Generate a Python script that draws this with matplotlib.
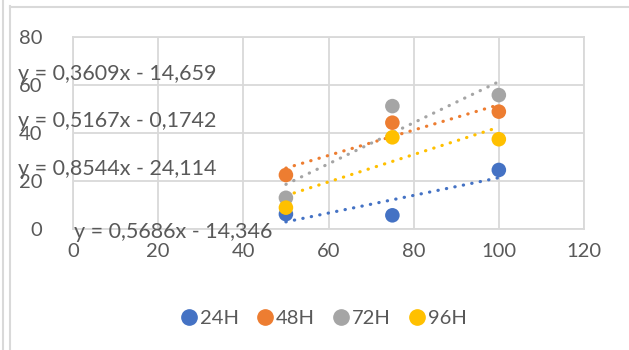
import matplotlib
matplotlib.use("Agg")
import matplotlib.pyplot as plt
import numpy as np
from matplotlib.lines import Line2D

x_vals = [50, 75, 100]
series_names = ["24H", "48H", "72H", "96H"]
s24 = [6.2, 5.7, 24.6]
s48 = [22.5, 44.3, 48.9]
s72 = [13.0, 51.2, 55.8]
s96 = [8.9, 38.2, 37.4]
colors = ["#4472C4", "#ED7D31", "#A5A5A5", "#FFC000"]
equations = ["y = 0,3609x - 14,659", "y = 0,5167x - 0,1742",
             "y = 0,8544x - 24,114", "y = 0,5686x - 14,346"]
xticks = [0, 20, 40, 60, 80, 100, 120]
yticks = [0, 20, 40, 60, 80]

plt.rcParams['font.family'] = ['Lato', 'DejaVu Sans']
W, H = 629, 350
fig = plt.figure(figsize=(W/100, H/100), dpi=100)
ax = fig.add_axes([73/W, 1-229/H, (584-73)/W, (229-37)/H])

tc = "#595959"
series = [s24, s48, s72, s96]
xs = np.array(x_vals, dtype=float)
for ys, c in zip(series, colors):
    ax.scatter(xs, ys, s=110, color=c, zorder=4, edgecolors='none', clip_on=False)
for ys, c in zip(series, colors):
    m, b = np.polyfit(xs, ys, 1)
    xl = np.array([50, 100])
    ax.plot(xl, m*xl+b, color=c, lw=2.3, ls=(0, (0.1, 2.6)), dash_capstyle='round',
            solid_capstyle='round', zorder=3)

ax.set_xlim(0, 120)
ax.set_ylim(0, 80)
ax.set_xticks(xticks)
ax.set_yticks(yticks)
ax.grid(True, color="#D9D9D9", lw=1.3)
ax.set_axisbelow(True)
for s in ax.spines.values():
    s.set_color("#D9D9D9")
    s.set_linewidth(1.3)
ax.tick_params(length=0, labelsize=14.5, labelcolor=tc, pad=10)
ax.tick_params(axis='y', pad=22)

# equation labels (positions in data units)
eq_pos = [(-13.0, 64.5), (-13.0, 44.8), (-13.0, 24.8), (0.2, -1.2)]
for (ex, ey), t in zip(eq_pos, equations):
    ax.text(ex, ey, t, fontsize=15.5, color=tc, va='center', ha='left', clip_on=False, zorder=5)

handles = [Line2D([], [], marker='o', ls='none', color=c, markersize=11) for c in colors]
fig.legend(handles, series_names, loc='center', bbox_to_anchor=(323/W, 1-318/H), ncol=4,
           frameon=False, fontsize=14.5, labelcolor=tc, handletextpad=0.05, columnspacing=0.8,
           handlelength=1.0)

# chart frame lines
fig.add_artist(Line2D([3.5/W, 3.5/W], [0, 1], color="#D9D9D9", lw=1.5))
fig.add_artist(Line2D([9.5/W, 9.5/W], [0, 1-6/H], color="#D9D9D9", lw=1.5))
fig.add_artist(Line2D([9.5/W, 1], [1-6.5/H, 1-6.5/H], color="#D9D9D9", lw=1.5))

fig.savefig("out.png", dpi=100, facecolor="white")
